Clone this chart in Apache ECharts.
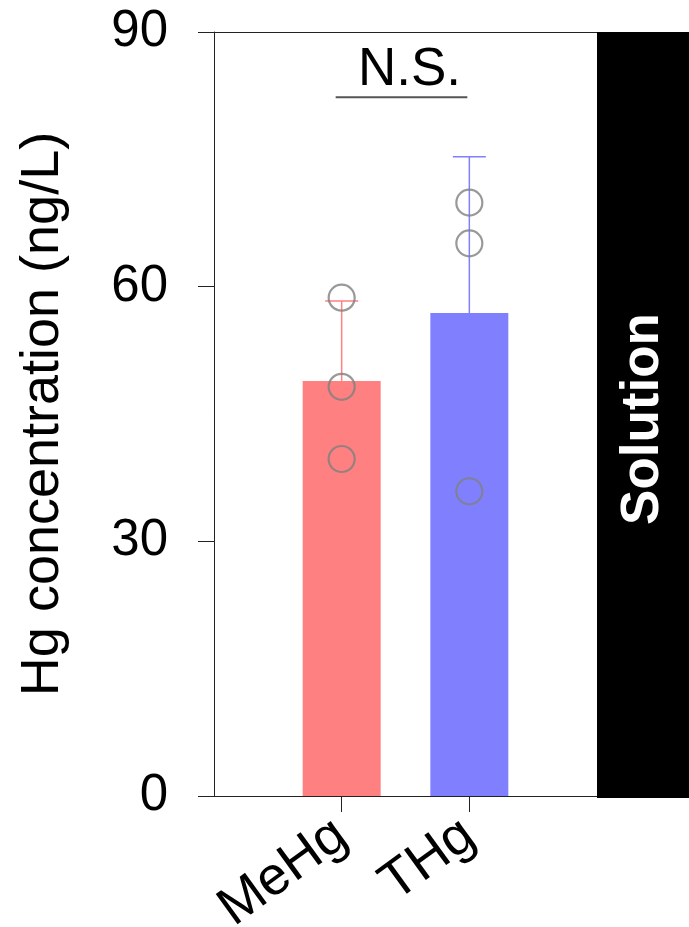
<!DOCTYPE html>
<html><head><meta charset="utf-8">
<script src="https://cdn.jsdelivr.net/npm/echarts@6/dist/echarts.min.js"></script>
<style>html,body{margin:0;padding:0;background:#fff}#c{width:689px;height:927px}</style>
</head><body><div id="c"></div>
<script>
const categories = ['MeHg', 'THg'];
const means = [48.9, 56.9];
const upperSD = [58.3, 75.3];
const pointsMeHg = [58.7, 48.2, 39.7];
const pointsTHg = [69.9, 65.1, 35.9];
const barColors = ['#ff8080', '#8080ff'];
const yTicks = [0, 30, 60, 90];
const sigLabel = 'N.S.';
const sigLevel = 82.3;
const sigTextLevel = 85.5;
const panelLabel = 'Solution';

const FONT = 'Liberation Sans, Arial, sans-serif';
const axisCats = [' ', ...categories, '  '];
const chart = echarts.init(document.getElementById('c'));

const points = [];
pointsMeHg.forEach(v => points.push([categories[0], v]));
pointsTHg.forEach(v => points.push([categories[1], v]));

chart.setOption({
  animation: false,
  grid: {left: 214, right: 92, top: 32, bottom: 131, containLabel: false, outerBoundsMode: 'none'},
  xAxis: [{
    type: 'category', data: axisCats, boundaryGap: false,
    axisLine: {show: true, lineStyle: {color: '#222', width: 1}},
    axisTick: {show: true, length: 16, interval: (i) => i === 1 || i === 2, lineStyle: {color: '#222'}},
    axisLabel: {interval: 0, rotate: 36, fontSize: 54, color: '#000', fontFamily: FONT, margin: 34},
    splitLine: {show: false}
  }, {
    type: 'category', data: axisCats, boundaryGap: false, position: 'top',
    axisLine: {show: true, lineStyle: {color: '#222', width: 1}},
    axisTick: {show: false}, axisLabel: {show: false}, splitLine: {show: false}
  }],
  yAxis: {
    type: 'value', min: 0, max: 90, interval: 30,
    name: 'Hg concentration (ng/L)', nameLocation: 'middle', nameGap: 144,
    nameTextStyle: {fontSize: 54, color: '#000', fontFamily: FONT},
    axisLine: {show: true, lineStyle: {color: '#222', width: 1}},
    axisTick: {show: true, length: 16, lineStyle: {color: '#222'}},
    axisLabel: {fontSize: 51, color: '#000', fontFamily: FONT, margin: 46,
      formatter: v => yTicks.includes(v) ? String(v) : ''},
    splitLine: {show: false}
  },
  series: [{
    type: 'bar', barWidth: 78,
    data: categories.map((c, i) => ({value: [c, means[i]], itemStyle: {color: barColors[i]}})),
    z: 1
  }, {
    type: 'custom',
    data: categories.map((c, i) => [i + 1, means[i], upperSD[i]]),
    renderItem: (params, api) => {
      const i = params.dataIndex;
      const lo = api.coord([api.value(0), api.value(1)]);
      const hi = api.coord([api.value(0), api.value(2)]);
      const col = barColors[i];
      return {type: 'group', children: [
        {type: 'line', shape: {x1: lo[0], y1: lo[1], x2: hi[0], y2: hi[1]}, style: {stroke: col, lineWidth: 1.5}},
        {type: 'line', shape: {x1: hi[0] - 16.5, y1: hi[1], x2: hi[0] + 16.5, y2: hi[1]}, style: {stroke: col, lineWidth: 1.5}}
      ]};
    },
    z: 2
  }, {
    type: 'scatter', data: points, symbol: 'circle', symbolSize: 26,
    itemStyle: {color: 'rgba(0,0,0,0)', borderColor: '#808080', borderWidth: 2.2},
    z: 3
  }, {
    type: 'custom',
    data: [[1, 2, sigLevel, sigTextLevel]],
    renderItem: (params, api) => {
      const a = api.coord([api.value(0), api.value(2)]);
      const b = api.coord([api.value(1), api.value(2)]);
      const t = api.coord([api.value(0), api.value(3)]);
      const mid = (a[0] + b[0]) / 2;
      return {type: 'group', children: [
        {type: 'line', shape: {x1: a[0] - 6, y1: a[1], x2: b[0] - 2, y2: b[1]}, style: {stroke: '#555', lineWidth: 2}},
        {type: 'text', x: mid + 4, y: t[1], style: {text: sigLabel, fontSize: 53, fontFamily: FONT, fill: '#000', align: 'center', verticalAlign: 'middle'}}
      ]};
    },
    z: 4
  }],
  graphic: [{
    type: 'rect', shape: {x: 597, y: 32, width: 92, height: 766}, style: {fill: '#000'}, z: 10
  }, {
    type: 'text', x: 643, y: 419, rotation: Math.PI / 2,
    style: {text: panelLabel, fontSize: 53, fontWeight: 'bold', fontFamily: FONT, fill: '#fff', align: 'center', verticalAlign: 'middle'}, z: 11
  }]
});
</script></body></html>
